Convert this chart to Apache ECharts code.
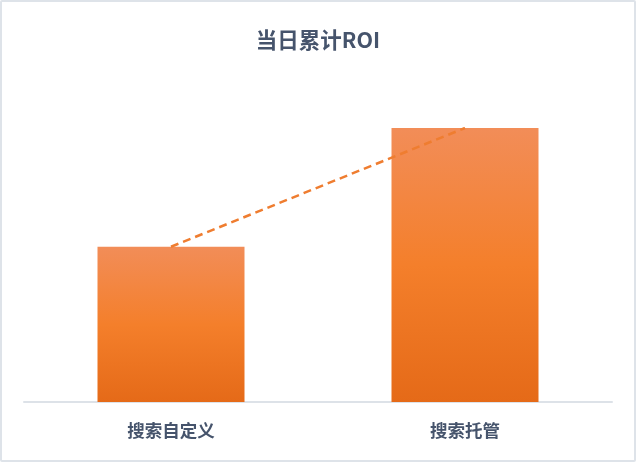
<!DOCTYPE html>
<html>
<head>
    <meta charset="utf-8">
    <title>ECharts</title>
    <script src="https://cdn.jsdelivr.net/npm/echarts@6/dist/echarts.min.js"></script>
    <style>
        html, body { margin: 0; padding: 0; background: #fff; }
        #main {
            width: 636px; height: 462px;
            box-sizing: border-box;
            border: 2px solid #dee3e9;
            border-radius: 2px;
        }
    </style>
</head>
<body>
<div id="main"></div>
<script type="text/javascript">
    // chart data
    var categories = ['搜索自定义', '搜索托管'];
    var roiValues = [0.85, 1.5];

    var chart = echarts.init(document.getElementById('main'));
    var option = {
        animation: false,
        title: {
            text: '当日累计ROI',
            left: 'center',
            top: 22,
            textStyle: {
                color: '#46546c',
                fontWeight: 'bold',
                fontFamily: 'Noto Sans CJK SC',
                fontSize: 21.5
            }
        },
        grid: {
            left: 22,
            right: 22,
            top: 126,
            bottom: 58
        },
        xAxis: {
            type: 'category',
            data: categories,
            axisTick: { show: false },
            axisLine: {
                lineStyle: { color: '#dde2e8', width: 2 }
            },
            axisLabel: {
                margin: 20,
                color: '#46546c',
                fontWeight: 'bold',
                fontFamily: 'Noto Sans CJK SC',
                fontSize: 17.5
            }
        },
        yAxis: {
            type: 'value',
            min: 0,
            max: 'dataMax',
            show: false
        },
        series: [
            {
                type: 'bar',
                data: roiValues,
                barWidth: '50%',
                itemStyle: {
                    color: new echarts.graphic.LinearGradient(0, 0, 0, 1, [
                        { offset: 0, color: '#f28d58' },
                        { offset: 0.5, color: '#f47f2b' },
                        { offset: 1, color: '#e56a18' }
                    ])
                }
            },
            {
                type: 'line',
                data: roiValues,
                symbol: 'none',
                z: 5,
                lineStyle: {
                    color: '#ef7d30',
                    width: 2.5,
                    type: [8, 5]
                }
            }
        ]
    };
    chart.setOption(option);
</script>
</body>
</html>
